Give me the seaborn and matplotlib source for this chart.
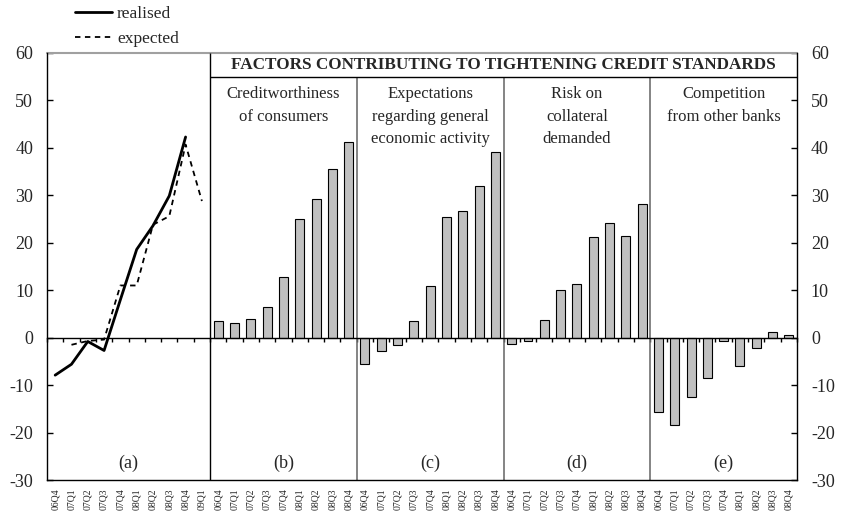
import numpy as np
import pandas as pd
import matplotlib
matplotlib.use("Agg")
import matplotlib.pyplot as plt
import seaborn as sns

# panel (a): diffusion index, realised and expected (06Q4-09Q1)
quarters_a = ["06Q4", "07Q1", "07Q2", "07Q3", "07Q4", "08Q1", "08Q2", "08Q3", "08Q4", "09Q1"]
realised = [-7.9, -5.6, -0.8, -2.7, 8.0, 18.6, 23.6, 29.9, 42.3, np.nan]
expected = [np.nan, -1.5, -0.7, -0.4, 11.0, 11.0, 23.8, 25.6, 40.7, 28.8]

# panels (b)-(e): factors contributing to tightening (06Q4-08Q4)
quarters_f = ["06Q4", "07Q1", "07Q2", "07Q3", "07Q4", "08Q1", "08Q2", "08Q3", "08Q4"]
creditworthiness = [3.6, 3.0, 3.9, 6.4, 12.7, 25.1, 29.3, 35.6, 41.3]
expectations = [-5.5, -2.9, -1.5, 3.6, 10.9, 25.4, 26.7, 31.9, 39.2]
collateral_risk = [-1.4, -0.6, 3.8, 10.0, 11.4, 21.3, 24.2, 21.5, 28.1]
competition = [-15.7, -18.3, -12.5, -8.6, -0.6, -6.0, -2.1, 1.2, 0.6]

factor_names = ["Creditworthiness\nof consumers",
                "Expectations\nregarding general\neconomic activity",
                "Risk on\ncollateral\ndemanded",
                "Competition\nfrom other banks"]
panel_tags = ["(a)", "(b)", "(c)", "(d)", "(e)"]
title = "FACTORS CONTRIBUTING TO TIGHTENING CREDIT STANDARDS"

sns.set_theme(style="white")
plt.rcParams["font.family"] = ["Liberation Serif", "DejaVu Serif"]
plt.rcParams["axes.unicode_minus"] = False

# one categorical axis for all five panels, with unique keys
keys_a = [f"a-{q}" for q in quarters_a]
rows = []
for tag, vals in zip("bcde", [creditworthiness, expectations, collateral_risk, competition]):
    for q, v in zip(quarters_f, vals):
        rows.append({"key": f"{tag}-{q}", "quarter": q, "value": v})
bars = pd.DataFrame(rows)
order = keys_a + list(bars["key"])
labels = quarters_a + list(bars["quarter"])

lines = pd.DataFrame({"pos": [order.index(k) for k in keys_a],
                      "realised": realised, "expected": expected})

fig = plt.figure(figsize=(8.41, 5.13), dpi=100)
ax = fig.add_axes([0.0559, 0.0643, 0.8918, 0.8324])

sns.barplot(data=bars, x="key", y="value", order=order, color="#c0c0c0",
            edgecolor="black", linewidth=0.8, width=0.55, saturation=1, ax=ax)
sns.lineplot(data=lines, x="pos", y="realised", color="black", linewidth=2.0,
             label="realised", ax=ax)
sns.lineplot(data=lines, x="pos", y="expected", color="black", linewidth=1.3,
             label="expected", ax=ax)
ax.lines[-1].set_dashes((3, 2.5))

n = len(order)
ax.set_xlim(-0.5, n - 0.5)
ax.set_ylim(-30, 60)
ax.set_xlabel(None)
ax.set_ylabel(None)

# y axis on both sides
ax.set_yticks(np.arange(-30, 61, 10))
ax.tick_params(axis="y", left=True, right=True, labelleft=True, labelright=True,
               direction="in", length=4, width=1, color="black", labelsize=13, pad=10)

# category labels at the bottom, boundary ticks on the zero line (top spine moved to 0)
ax.set_xticks(range(n))
ax.set_xticks(np.arange(n + 1) - 0.5, minor=True)
ax.tick_params(axis="x", which="major", bottom=True, top=False, length=0, pad=6,
               labelrotation=90, labelsize=7)
ax.tick_params(axis="x", which="minor", bottom=False, top=True, direction="in",
               length=3, width=1, color="black")
ax.set_xticklabels(labels, fontsize=7, fontweight="bold", rotation=90)
ax.spines["top"].set_position(("data", 0))
for side in ["left", "right", "bottom", "top"]:
    ax.spines[side].set_color("black")
    ax.spines[side].set_linewidth(1)
ax.axhline(60, color="#a0a0a0", linewidth=1.5, clip_on=False)

# panel separators and the title box
first_split = len(quarters_a) - 0.5
splits = [first_split + len(quarters_f) * i for i in range(1, 4)]
ax.vlines(first_split, -30, 60, color="black", linewidth=1)
ax.vlines(splits, -30, 55, color="#707070", linewidth=1.2)
ax.hlines(55, first_split, n - 0.5, color="black", linewidth=1)
ax.text((first_split + n - 0.5) / 2, 57.5, title, ha="center", va="center",
        fontsize=12.3, fontweight="bold")

edges = [-0.5, first_split] + splits + [n - 0.5]
for i, tag in enumerate(panel_tags):
    ax.text((edges[i] + edges[i + 1]) / 2, -26.5, tag, ha="center", va="center", fontsize=13)
for i, name in enumerate(factor_names):
    ax.text((edges[i + 1] + edges[i + 2]) / 2, 53.0, name, ha="center", va="top",
            fontsize=12, linespacing=1.55)

ax.legend(loc="lower left", bbox_to_anchor=(0.033, 1.005), frameon=False, fontsize=12.5,
          handlelength=2.1, handletextpad=0.3, labelspacing=0.55, borderaxespad=0.1,
          borderpad=0.1)

fig.savefig("out.png", dpi=100)
